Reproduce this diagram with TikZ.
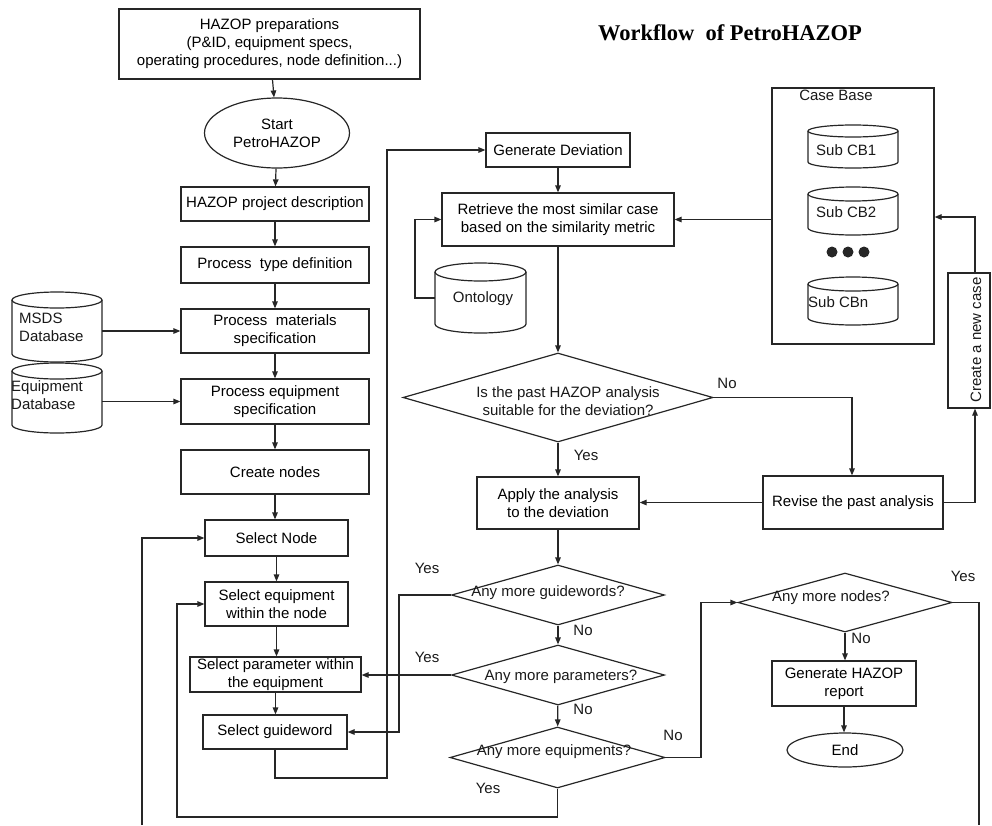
\documentclass[tikz,border=0pt]{standalone}
\usepackage{fontspec}
\setmainfont{Liberation Sans}
\newfontfamily\titlefont{Liberation Serif}
\usetikzlibrary{arrows.meta,shapes.geometric}

\tikzset{
  line/.style={line width=1.2pt, draw=black!85},
  arr/.style={line, -{Triangle[length=7pt,width=5.5pt]}},
  lbl/.style={font=\fontsize{15}{18}\selectfont, inner sep=0pt, text=black!90},
  box/.style={line, rectangle, inner sep=0pt, align=center, font=\fontsize{15}{18}\selectfont},
  term/.style={line, ellipse, inner sep=0pt, align=center, font=\fontsize{15}{18}\selectfont},
  decision/.style={line, diamond, inner sep=0pt},
  anchorbox/.style={rectangle, inner sep=0pt},
  heading/.style={font=\titlefont\bfseries\fontsize{22.5}{26}\selectfont, inner sep=0pt}
}

% database drum: x1, y1, x2, y2, rim radius
\newcommand{\drum}[5]{%
  \pgfmathsetmacro\drumrx{(#3-#1)/2}%
  \pgfmathsetmacro\drumcx{(#3+#1)/2}%
  \draw[line] (#1,#2+#5) -- (#1,#4-#5)
    arc[start angle=180,end angle=0,x radius=\drumrx,y radius=#5] -- (#3,#2+#5);
  \draw[line] (\drumcx,#2+#5) ellipse[x radius=\drumrx, y radius=#5];
}

\begin{document}
\begin{tikzpicture}[x=1pt,y=-1pt]
\useasboundingbox (0,0) rectangle (992,825);

\node[heading] (title) at (730,33) {Workflow~ of PetroHAZOP};

% ---------- preparation column ----------
\node[box, minimum width=301, minimum height=70] (prep) at (269.5,44)
  {HAZOP preparations\\(P\&ID, equipment specs,\\operating procedures, node definition...)};
\node[term, minimum width=145, minimum height=70] (start) at (277,133) {Start\\PetroHAZOP};
\node[box, minimum width=188, minimum height=34] (desc) at (275,204) {HAZOP project description};
\node[box, minimum width=188, minimum height=36] (ptype) at (275,265) {Process~ type definition};
\node[box, minimum width=188, minimum height=44] (pmat) at (275,331) {Process~ materials\\specification};
\node[box, minimum width=188, minimum height=45] (pequip) at (275,401.5) {Process equipment\\specification};
\node[box, minimum width=188, minimum height=44] (cnodes) at (275,472) {Create nodes};
\node[box, minimum width=143, minimum height=36] (selnode) at (276.5,538) {Select Node};
\node[box, minimum width=143, minimum height=44] (selequip) at (276.5,604) {Select equipment\\within the node};
\node[box, minimum width=171, minimum height=35] (selparam) at (275.5,674.5) {Select parameter within\\the equipment};
\node[box, minimum width=144, minimum height=34] (selguide) at (275,732) {Select guideword};

% databases
\drum{12}{292}{102}{362}{8}
\node[anchorbox, minimum width=90, minimum height=70] (msds) at (57,327) {};
\node[lbl, align=left, anchor=west] (msdsT) at (19,327) {MSDS\\Database};
\drum{12}{363}{102}{433}{8}
\node[anchorbox, minimum width=90, minimum height=70] (eqdb) at (57,398) {};
\node[lbl, align=left, anchor=west] (eqdbT) at (11,395.5) {Equipment\\Database};

% ---------- analysis column ----------
\node[box, minimum width=144, minimum height=34] (gendev) at (558,150) {Generate Deviation};
\node[box, minimum width=232, minimum height=53] (retr) at (558,219.5)
  {Retrieve the most similar case\\based on the similarity metric};
\drum{435}{263}{526}{333}{9}
\node[anchorbox, minimum width=91, minimum height=70] (onto) at (480.5,298) {};
\node[lbl] (ontoT) at (483,299) {Ontology};

\node[decision, minimum width=310, minimum height=89] (suit) at (558,397.5) {};
\node[lbl, align=center] (suitT) at (568,401) {Is the past HAZOP analysis\\suitable for the deviation?};
\node[box, minimum width=162, minimum height=52] (apply) at (558,503) {Apply the analysis\\to the deviation};
\node[box, minimum width=180, minimum height=53] (revise) at (853,502.5) {Revise the past analysis};

\node[decision, minimum width=213, minimum height=60] (gw) at (558,595) {};
\node[lbl] (gwT) at (548,593) {Any more guidewords?};
\node[decision, minimum width=213, minimum height=60] (par) at (558,675) {};
\node[lbl] (parT) at (561,677) {Any more parameters?};
\node[decision, minimum width=215, minimum height=61] (eqd) at (557.5,757.5) {};
\node[lbl] (eqdT) at (554,752) {Any more equipments?};

\node[decision, minimum width=214, minimum height=59] (nodesd) at (845,602.5) {};
\node[lbl] (nodesdT) at (831,598) {Any more nodes?};
\node[box, minimum width=144, minimum height=45] (report) at (844,683.5) {Generate HAZOP\\report};
\node[term, minimum width=116, minimum height=34] (finish) at (845,750) {End};

% ---------- case base ----------
\node[line, rectangle, inner sep=0pt, minimum width=162, minimum height=256] (cbase) at (853,216) {};
\node[lbl] (cbaseT) at (836,95) {Case Base};
\drum{808}{125}{898}{168}{6}
\node[lbl, anchor=west] (cb1) at (816,150) {Sub CB1};
\drum{808}{187}{898}{235}{7}
\node[lbl, anchor=west] (cb2) at (816,212) {Sub CB2};
\fill[black!85] (832,252) circle[radius=5.5] (848,252) circle[radius=5.5] (864,252) circle[radius=5.5];
\drum{808}{277}{898}{325}{7}
\node[lbl, anchor=west] (cbn) at (808,302) {Sub CBn};

\node[line, rectangle, inner sep=0pt, minimum width=42, minimum height=135] (newcase) at (969,340.5) {};
\node[lbl, rotate=90] (newcaseT) at (976,340) {Create a new case};

% ---------- connectors ----------
\draw[arr] (prep) -- (start);
\draw[arr] (start) -- (desc);
\draw[arr] (desc) -- (ptype);
\draw[arr] (ptype) -- (pmat);
\draw[arr] (pmat) -- (pequip);
\draw[arr] (pequip) -- (cnodes);
\draw[arr] (cnodes.south) -- (cnodes.south |- selnode.north);
\draw[arr] (selnode) -- (selequip);
\draw[arr] (selequip.south) -- (selequip.south |- selparam.north);
\draw[arr] (selparam.south) -- (selparam.south |- selguide.north);
\draw[arr] (msds.east |- pmat.west) -- (pmat.west);
\draw[arr] (eqdb.east |- pequip.west) -- (pequip.west);

\coordinate (g1) at (275,778);
\coordinate (g2) at (387,778);
\draw[arr] (selguide.south) -- (g1) -- (g2) -- (g2 |- gendev.west) -- (gendev.west);

\draw[arr] (gendev) -- (retr);
\coordinate (o1) at (415,298);
\draw[arr] (onto.west) -- (o1) -- (o1 |- retr.west) -- (retr.west);
\draw[arr] (retr) -- (suit);
\draw[arr] (cbase.west |- retr.east) -- (retr.east);

\draw[arr] (suit) -- (apply);
\node[lbl] (yes1) at (586,455) {Yes};
\coordinate (s1) at (852,397.5);
\draw[arr] (suit.east) -- (s1) -- (s1 |- revise.north);
\node[lbl] (no1) at (727,383) {No};
\draw[arr] (revise.west) -- (revise.west -| apply.east);
\coordinate (r1) at (975,502.5);
\draw[arr] (revise.east) -- (r1) -- (r1 |- newcase.south);
\coordinate (r2) at (975,217);
\draw[arr] (r2 |- newcase.north) -- (r2) -- (r2 -| cbase.east);

\draw[arr] (apply) -- (gw);
\draw[arr] (gw) -- (par);
\node[lbl] (no2) at (583,630) {No};
\draw[arr] (par) -- (eqd);
\node[lbl] (no3) at (583,709) {No};

\coordinate (y1) at (399,595);
\draw[arr] (gw.west) -- (y1) -- (y1 |- selguide.east) -- (selguide.east);
\node[lbl] (yes2) at (427,568) {Yes};
\draw[arr] (par.west) -- (par.west -| selparam.east);
\node[lbl] (yes3) at (427,657) {Yes};

\coordinate (e1) at (557.5,817);
\coordinate (e2) at (177,817);
\draw[arr] (eqd.south) -- (e1) -- (e2) -- (e2 |- selequip.west) -- (selequip.west);
\node[lbl] (yes4) at (488,788) {Yes};
\coordinate (e3) at (701,757.5);
\draw[arr] (eqd.east) -- (e3) -- (e3 |- nodesd.west) -- (nodesd.west);
\node[lbl] (no4) at (673,735) {No};

\draw[arr] (nodesd.south) -- (nodesd.south |- report.north);
\node[lbl] (no5) at (861,638) {No};
\draw[arr] (report.south) -- (report.south |- finish.north);
\coordinate (n1) at (979,602.5);
\coordinate (n2) at (979,825);
\draw[line] (nodesd.east) -- (n1) -- (n2);
\node[lbl] (yes5) at (963,576) {Yes};

\coordinate (b1) at (142,825);
\draw[arr] (b1) -- (b1 |- selnode.west) -- (selnode.west);
\end{tikzpicture}
\end{document}
